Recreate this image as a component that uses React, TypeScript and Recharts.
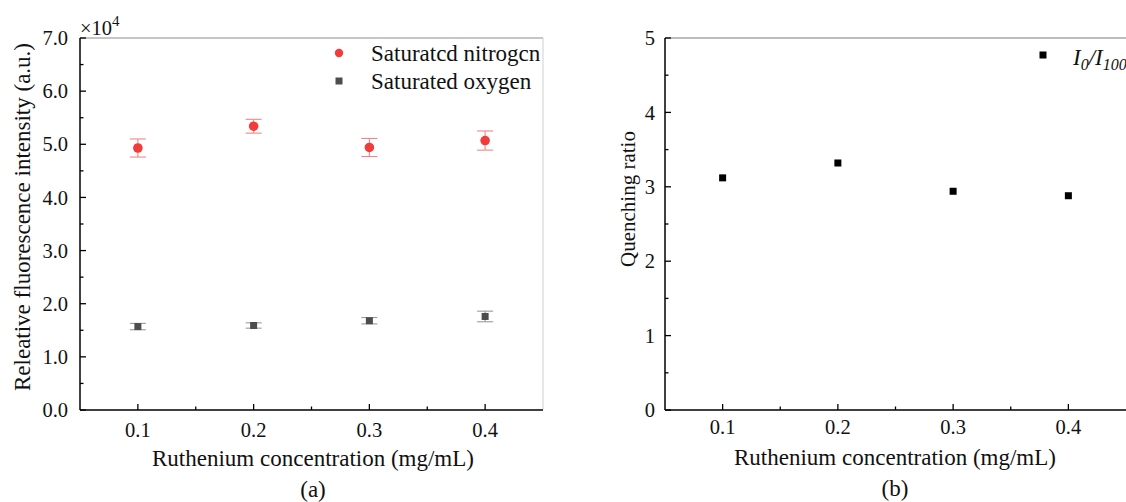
import React from 'react'
import { ScatterChart, Scatter, XAxis, YAxis, ErrorBar, ReferenceLine } from 'recharts'

const FONT = '"Liberation Serif", "Times New Roman", serif'

// Ruthenium concentration (mg/mL)
const concentrations = [0.1, 0.2, 0.3, 0.4]
// panel (a), values in units of 10^4
const nitrogen = [4.93, 5.34, 4.94, 5.07]
const nitrogenErr = [0.17, 0.13, 0.17, 0.18]
const oxygen = [1.57, 1.59, 1.68, 1.76]
const oxygenErr = [0.06, 0.05, 0.06, 0.1]
// panel (b)
const ratio = [3.12, 3.32, 2.94, 2.88]

const xTicks = [0.1, 0.15, 0.2, 0.25, 0.3, 0.35, 0.4]
const yTicksA = [0, 0.5, 1, 1.5, 2, 2.5, 3, 3.5, 4, 4.5, 5, 5.5, 6, 6.5, 7]
const yTicksB = [0, 0.5, 1, 1.5, 2, 2.5, 3, 3.5, 4, 4.5, 5]

const nitrogenData = concentrations.map((x, i) => ({ x, y: nitrogen[i], err: nitrogenErr[i] }))
const oxygenData = concentrations.map((x, i) => ({ x, y: oxygen[i], err: oxygenErr[i] }))
const ratioData = concentrations.map((x, i) => ({ x, y: ratio[i] }))

const RED = '#f23b3b'
const GRAY = '#4d4d4d'

const isMajor = (v: number, step: number) => Math.abs(v / step - Math.round(v / step)) < 1e-6

const makeYTick = (decimals: number, gap: number) => (props: any) => {
  const { x, y, payload } = props
  const major = isMajor(payload.value, 1)
  return (
    <g>
      <line x1={x} x2={x + (major ? 6 : 3.5)} y1={y} y2={y} stroke="#000" strokeWidth={1.3} />
      {major && (
        <text x={x - gap} y={y} dy="0.35em" textAnchor="end" fontFamily={FONT} fontSize={20.5} fill="#111">
          {payload.value.toFixed(decimals)}
        </text>
      )}
    </g>
  )
}

const makeXTick = (dy: number) => (props: any) => {
  const { x, y, payload } = props
  const major = isMajor(payload.value, 0.1)
  return (
    <g>
      <line x1={x} x2={x} y1={y} y2={y - (major ? 6 : 3.5)} stroke="#000" strokeWidth={1.3} />
      {major && (
        <text x={x} y={y + dy} dy="0.35em" textAnchor="middle" fontFamily={FONT} fontSize={20.5} fill="#111">
          {payload.value.toFixed(1)}
        </text>
      )}
    </g>
  )
}

const Dot = (props: any) => <circle cx={props.cx} cy={props.cy} r={4.8} fill={RED} />
const GraySquare = (props: any) => <rect x={props.cx - 3.5} y={props.cy - 3.5} width={7} height={7} fill={GRAY} />
const BlackSquare = (props: any) => <rect x={props.cx - 3.5} y={props.cy - 3.5} width={7} height={7} fill="#000" />

const txt = { fontFamily: FONT, fill: '#111' }

const PanelA = () => (
  <ScatterChart width={560} height={502} margin={{ top: 38, right: 17, left: 0, bottom: 0 }}>
    <XAxis
      type="number"
      dataKey="x"
      domain={[0.05, 0.45]}
      allowDataOverflow
      ticks={xTicks}
      interval={0}
      tickSize={0}
      tickMargin={0}
      tick={makeXTick(20)}
      height={92}
      axisLine={{ stroke: '#000', strokeWidth: 1.5 }}
    />
    <YAxis
      type="number"
      dataKey="y"
      domain={[0, 7]}
      allowDataOverflow
      ticks={yTicksA}
      interval={0}
      tickSize={0}
      tickMargin={0}
      tick={makeYTick(1, 12)}
      width={80}
      axisLine={{ stroke: '#000', strokeWidth: 1.5 }}
    />
    <ReferenceLine y={7} stroke="#8c8c8c" strokeWidth={1} />
    <ReferenceLine x={0.45} stroke="#cfcfcf" strokeWidth={1} />
    <Scatter data={nitrogenData} shape={Dot} isAnimationActive={false}>
      <ErrorBar dataKey="err" direction="y" width={8} stroke="#f58585" strokeWidth={1.1} />
    </Scatter>
    <Scatter data={oxygenData} shape={GraySquare} isAnimationActive={false}>
      <ErrorBar dataKey="err" direction="y" width={8} stroke="#9a9a9a" strokeWidth={1.1} />
    </Scatter>
    <text x={80} y={28} dy="0.35em" fontSize={20.5} {...txt}>
      ×10<tspan dy={-9} fontSize={15}>4</tspan>
    </text>
    <circle cx={339} cy={53} r={4.2} fill={RED} />
    <text x={371} y={53} dy="0.35em" fontSize={23} {...txt}>Saturatcd nitrogcn</text>
    <rect x={335.5} y={77.5} width={7} height={7} fill={GRAY} />
    <text x={371} y={81} dy="0.35em" fontSize={23} {...txt}>Saturated oxygen</text>
    <text x={22} y={217} dy="0.35em" fontSize={23} textAnchor="middle" transform="rotate(-90 22 217)" {...txt}>
      Releative fluorescence intensity (a.u.)
    </text>
    <text x={313} y={458} dy="0.35em" fontSize={23} textAnchor="middle" {...txt}>
      Ruthenium concentration (mg/mL)
    </text>
    <text x={313} y={489} dy="0.35em" fontSize={23} textAnchor="middle" {...txt}>(a)</text>
  </ScatterChart>
)

const PanelB = () => (
  <ScatterChart width={566} height={502} margin={{ top: 38, right: 0, left: 0, bottom: 0 }}>
    <XAxis
      type="number"
      dataKey="x"
      domain={[0.05, 0.45]}
      allowDataOverflow
      ticks={xTicks}
      interval={0}
      tickSize={0}
      tickMargin={0}
      tick={makeXTick(17)}
      height={92}
      axisLine={{ stroke: '#000', strokeWidth: 1.5 }}
    />
    <YAxis
      type="number"
      dataKey="y"
      domain={[0, 5]}
      allowDataOverflow
      ticks={yTicksB}
      interval={0}
      tickSize={0}
      tickMargin={0}
      tick={makeYTick(0, 10)}
      width={105}
      axisLine={{ stroke: '#000', strokeWidth: 1.5 }}
    />
    <ReferenceLine y={5} stroke="#7a7a7a" strokeWidth={1} />
    <Scatter data={ratioData} shape={BlackSquare} isAnimationActive={false} />
    <rect x={479.5} y={51.5} width={7} height={7} fill="#000" />
    <text x={513} y={57} dy="0.35em" fontSize={23} fontStyle="italic" {...txt}>
      I<tspan dy={5} fontSize={16}>0</tspan>
      <tspan dy={-5}>/I</tspan>
      <tspan dy={5} fontSize={16}>100</tspan>
    </text>
    <text x={68} y={199} dy="0.35em" fontSize={21} textAnchor="middle" transform="rotate(-90 68 199)" {...txt}>
      Quenching ratio
    </text>
    <text x={335} y={457} dy="0.35em" fontSize={23} textAnchor="middle" {...txt}>
      Ruthenium concentration (mg/mL)
    </text>
    <text x={335} y={488} dy="0.35em" fontSize={23} textAnchor="middle" {...txt}>(b)</text>
  </ScatterChart>
)

export default function App() {
  return (
    <div style={{ position: 'absolute', left: 0, top: 0, width: 1126, height: 502, background: '#fff', overflow: 'hidden' }}>
      <div style={{ position: 'absolute', left: 0, top: 0 }}>
        <PanelA />
      </div>
      <div style={{ position: 'absolute', left: 560, top: 0 }}>
        <PanelB />
      </div>
    </div>
  )
}
